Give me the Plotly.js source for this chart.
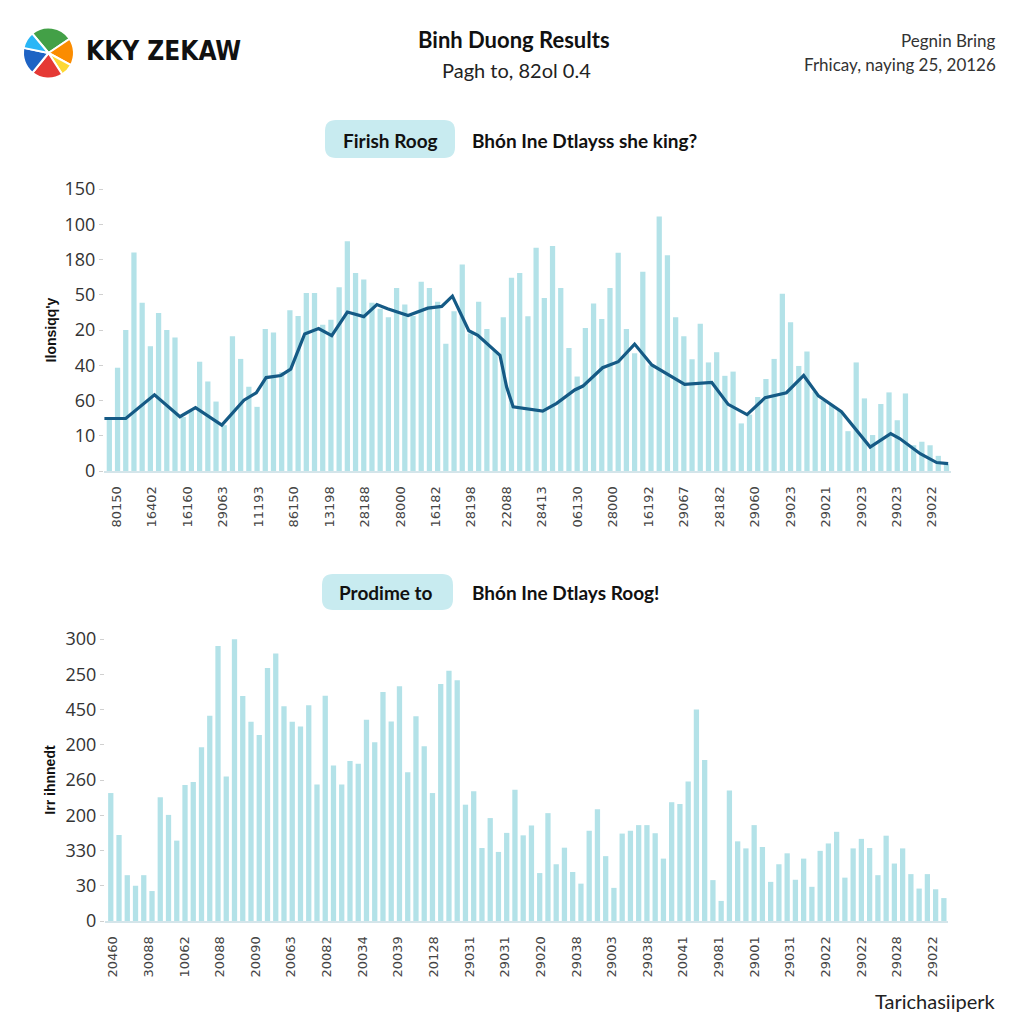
<!DOCTYPE html>
<html><head><meta charset="utf-8">
<script src="https://cdn.plot.ly/plotly-3.0.1.min.js"></script>
<style>html,body{margin:0;padding:0;background:#fff}#chart{width:1024px;height:1024px}</style>
</head><body><div id="chart"></div>
<script>
// ---------- DATA ----------
const topBars = [1.5, 2.93, 4.0, 6.2, 4.77, 3.54, 4.48, 4.0, 3.79, 1.53, 1.7, 3.1, 2.54, 1.97, 1.3, 3.82, 3.18, 2.39, 1.82, 4.03, 3.93, 2.8, 4.56, 4.4, 5.05, 5.05, 4.15, 4.29, 5.21, 6.52, 5.62, 5.43, 4.77, 4.6, 4.36,
  5.19, 4.72, 4.4, 5.37, 5.19, 4.8, 3.61, 4.53, 5.86, 3.9, 4.8, 4.03, 3.4, 4.36, 5.48, 5.62, 4.39, 6.33, 4.91, 6.38, 5.19, 3.49, 2.68, 4.06, 4.75, 4.31, 5.19, 6.19, 4.03, 3.34, 5.65, 3.0, 7.22, 6.12,
  4.36, 3.82, 3.17, 4.18, 3.08, 3.37, 2.7, 2.82, 1.35, 1.6, 2.1, 2.61, 3.18, 5.03, 4.22, 2.98, 3.39, 2.25, 2.0, 1.87, 1.7, 1.13, 3.08, 2.06, 1.02, 1.9, 2.23, 1.44, 2.2, 0.73, 0.83, 0.73, 0.43, 0.2];
const topLineX = [-0.6, 2.0, 5.5, 8.6, 10.5, 13.7, 16.4, 17.9, 19.1, 20.9, 22.1, 23.8, 25.5, 27.1, 29.0, 31.0, 32.6, 33.9, 36.4, 38.8, 40.5, 41.8, 43.8, 44.9, 47.6, 48.4, 49.2, 52.8, 54.5, 56.7, 57.7, 60.1, 62.0, 64.0, 66.1, 68.3, 70.1, 73.4, 75.4, 77.7, 79.9, 82.5, 84.6, 86.4, 89.2, 92.7, 95.2, 96.3, 98.8, 100.8, 102.2];
const topLineY = [1.49, 1.49, 2.16, 1.54, 1.8, 1.3, 2.01, 2.22, 2.65, 2.71, 2.89, 3.89, 4.04, 3.84, 4.51, 4.38, 4.72, 4.6, 4.41, 4.62, 4.67, 4.96, 3.98, 3.85, 3.28, 2.39, 1.82, 1.7, 1.92, 2.3, 2.41, 2.93, 3.1, 3.6, 3.01, 2.71, 2.46, 2.51, 1.89, 1.6, 2.08, 2.22, 2.71, 2.13, 1.68, 0.68, 1.06, 0.92, 0.49, 0.24, 0.21];
const bottomBars = [3.63, 2.44, 1.3, 1.0, 1.3, 0.85, 3.51, 3.01, 2.28, 3.86, 3.94, 4.93, 5.82, 7.8, 4.1, 7.99, 6.38, 5.65, 5.28, 7.18, 7.59, 6.09, 5.65, 5.52, 6.12, 3.87, 6.39, 4.41, 3.87, 4.54, 4.46, 5.71, 5.07, 6.5,
  5.66, 6.66, 4.22, 5.81, 4.96, 3.63, 6.72, 7.1, 6.83, 3.3, 3.68, 2.07, 2.92, 1.96, 2.5, 3.72, 2.43, 2.71, 1.36, 3.06, 1.61, 2.08, 1.39, 1.06, 2.56, 3.17, 1.84, 0.94, 2.48, 2.56, 2.72, 2.72, 2.49, 1.77,
  3.37, 3.32, 3.96, 6.0, 4.57, 1.16, 0.57, 3.7, 2.26, 2.06, 2.72, 2.1, 1.11, 1.61, 1.92, 1.17, 1.77, 0.97, 1.99, 2.2, 2.53, 1.23, 2.06, 2.33, 2.07, 1.3, 2.42, 1.63, 2.06, 1.33, 0.92, 1.33, 0.9, 0.65];
const topYTickText = ["0", "10", "60", "40", "20", "50", "180", "100", "150"];
const bottomYTickText = ["0", "30", "330", "200", "260", "200", "450", "250", "300"];
const topXTickText = ["80150", "16402", "16160", "29063", "11193", "86150", "13198", "28188", "28000", "16182", "28198", "22088", "28413", "06130", "28000", "16192", "29067", "28182", "29060", "29023", "29021", "29023", "29023", "29022"];
const bottomXTickText = ["20460", "30088", "10062", "20088", "20090", "20063", "20082", "20034", "20039", "20128", "29031", "29031", "29020", "29038", "29003", "29038", "20041", "29081", "29001", "29031", "29022", "29022", "29028", "29022"];
const logoParts = [2, 1.3, 0.6, 1.5, 1.3, 0.8];
const logoColors = ["#43a047", "#fb8c00", "#fdd835", "#e53935", "#1e63c4", "#29b6f6"];

// ---------- HELPERS ----------
const W = 1024, H = 1024;
const px = x => x / W, py = y => 1 - y / H;
function rr(x0, y0, x1, y1, r) {
  const P = (x, y) => px(x).toFixed(5) + "," + py(y).toFixed(5);
  return "M" + P(x0 + r, y0) + " L" + P(x1 - r, y0) + " Q" + P(x1, y0) + " " + P(x1, y0 + r) +
    " L" + P(x1, y1 - r) + " Q" + P(x1, y1) + " " + P(x1 - r, y1) +
    " L" + P(x0 + r, y1) + " Q" + P(x0, y1) + " " + P(x0, y1 - r) +
    " L" + P(x0, y0 + r) + " Q" + P(x0, y0) + " " + P(x0 + r, y0) + " Z";
}
const barColor = "#b3e2e8";
const lineColor = "#155a85";
const idx = arr => arr.map((_, i) => i);
const tickPos = (arr, start, step) => arr.map((_, k) => start + step * k);
const yTickVals = topYTickText.map((_, i) => i);

const traces = [
  { type: "bar", x: idx(topBars), y: topBars, xaxis: "x", yaxis: "y", marker: { color: barColor }, hoverinfo: "skip" },
  { type: "scatter", mode: "lines", x: topLineX, y: topLineY, xaxis: "x", yaxis: "y", line: { color: lineColor, width: 3.2 }, hoverinfo: "skip" },
  { type: "bar", x: idx(bottomBars), y: bottomBars, xaxis: "x2", yaxis: "y2", marker: { color: barColor }, hoverinfo: "skip" },
  { type: "pie", values: logoParts, marker: { colors: logoColors, line: { color: "#ffffff", width: 2 } }, textinfo: "none", hoverinfo: "skip", sort: false, direction: "clockwise", rotation: -40,
    domain: { x: [px(23), px(74)], y: [py(79), py(27)] } }
];

const xTickFont = { family: "DejaVu Sans", size: 13, color: "#444" };
const yTickFont = { family: "Open Sans", size: 18, color: "#333" };
const axTitleFont = { family: "Liberation Sans", size: 14, color: "#111", weight: 700 };

const layout = {
  width: W, height: H, margin: { l: 0, r: 0, t: 0, b: 0 },
  paper_bgcolor: "#ffffff", plot_bgcolor: "#ffffff",
  showlegend: false, bargap: 0.36,
  xaxis: { domain: [px(104), px(951)], range: [-0.65, 102.55], anchor: "y",
    tickmode: "array", tickvals: tickPos(topXTickText, 0.9, 4.32), ticktext: topXTickText,
    tickangle: -90, tickfont: xTickFont, ticks: "", ticklabelstandoff: 8,
    showgrid: false, zeroline: false, showline: true, linecolor: "#d4e5ea", linewidth: 2, fixedrange: true },
  yaxis: { domain: [py(471), py(189)], range: [0, 8], anchor: "x",
    tickmode: "array", tickvals: yTickVals, ticktext: topYTickText, tickfont: yTickFont,
    ticks: "outside", ticklen: 4, tickcolor: "#d0d0d0",
    showgrid: false, zeroline: false, showline: false,
    title: { text: "Ilonsiqq'y", font: axTitleFont, standoff: 4 } },
  xaxis2: { domain: [px(105), px(948)], range: [-0.7, 101.5], anchor: "y2",
    tickmode: "array", tickvals: tickPos(bottomXTickText, 0.28, 4.32), ticktext: bottomXTickText,
    tickangle: -90, tickfont: xTickFont, ticks: "", ticklabelstandoff: 8,
    showgrid: false, zeroline: false, showline: true, linecolor: "#d4e5ea", linewidth: 2, fixedrange: true },
  yaxis2: { domain: [py(921), py(639)], range: [0, 8], anchor: "x2",
    tickmode: "array", tickvals: yTickVals, ticktext: bottomYTickText, tickfont: yTickFont,
    ticks: "outside", ticklen: 4, tickcolor: "#d0d0d0",
    showgrid: false, zeroline: false, showline: false,
    title: { text: "Irr ihnnedt", font: axTitleFont, standoff: 6 } },
  shapes: [
    { type: "path", xref: "paper", yref: "paper", path: rr(325, 120, 455, 158, 11), fillcolor: "#c8ebf0", line: { width: 0 }, layer: "below" },
    { type: "path", xref: "paper", yref: "paper", path: rr(322, 574, 453, 610, 11), fillcolor: "#c8ebf0", line: { width: 0 }, layer: "below" }
  ],
  annotations: [
    { text: "KKY ZEKAW", x: px(84), y: py(51), xref: "paper", yref: "paper", xanchor: "left", yanchor: "middle", showarrow: false,
      font: { family: "Liberation Sans Narrow, DejaVu Sans Condensed, Liberation Sans", size: 26, color: "#111", weight: 700 } },
    { text: "Binh Duong Results", x: px(514), y: py(39), xref: "paper", yref: "paper", xanchor: "center", yanchor: "middle", showarrow: false,
      font: { family: "Lato", size: 22, color: "#111", weight: 700 } },
    { text: "Pagh to, 82ol 0.4", x: px(516), y: py(70), xref: "paper", yref: "paper", xanchor: "center", yanchor: "middle", showarrow: false,
      font: { family: "Lato", size: 20, color: "#222" } },
    { text: "Pegnin Bring", x: px(998), y: py(40), xref: "paper", yref: "paper", xanchor: "right", yanchor: "middle", showarrow: false,
      font: { family: "Lato", size: 17, color: "#333" } },
    { text: "Frhicay, naying 25, 20126", x: px(998), y: py(64), xref: "paper", yref: "paper", xanchor: "right", yanchor: "middle", showarrow: false,
      font: { family: "Lato", size: 17, color: "#333" } },
    { text: "Firish Roog", x: px(390), y: py(140), xref: "paper", yref: "paper", xanchor: "center", yanchor: "middle", showarrow: false,
      font: { family: "Lato", size: 19, color: "#111", weight: 700 } },
    { text: "Bhón Ine Dtlayss she king?", x: px(470), y: py(140), xref: "paper", yref: "paper", xanchor: "left", yanchor: "middle", showarrow: false,
      font: { family: "Lato", size: 19, color: "#111", weight: 700 } },
    { text: "Prodime to", x: px(386), y: py(592), xref: "paper", yref: "paper", xanchor: "center", yanchor: "middle", showarrow: false,
      font: { family: "Lato", size: 19, color: "#111", weight: 700 } },
    { text: "Bhón Ine Dtlays Roog!", x: px(470), y: py(592), xref: "paper", yref: "paper", xanchor: "left", yanchor: "middle", showarrow: false,
      font: { family: "Lato", size: 19, color: "#111", weight: 700 } },
    { text: "Tarichasiiperk", x: px(998), y: py(1001), xref: "paper", yref: "paper", xanchor: "right", yanchor: "middle", showarrow: false,
      font: { family: "Lato", size: 20, color: "#222" } }
  ]
};

Plotly.newPlot("chart", traces, layout, { staticPlot: true, displayModeBar: false });
</script>
</body></html>
